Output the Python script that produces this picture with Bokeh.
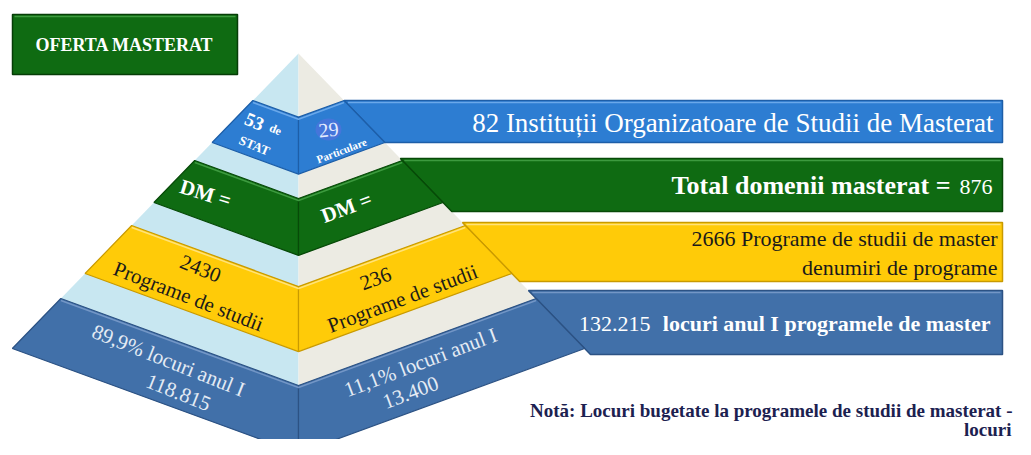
from bokeh.plotting import figure
from bokeh.models import Range1d
from bokeh.embed import file_html
from bokeh.resources import INLINE
from bokeh.core.properties import value

# ---------------- data ----------------
title = "OFERTA MASTERAT"
inst_state = "53"
inst_private = "29"
inst_total = "82"
domains_total = "876"
programs_state = "2430"
programs_private = "236"
programs_total = "2666"
places_state_pct = "89,9%"
places_state = "118.815"
places_private_pct = "11,1%"
places_private = "13.400"
places_total = "132.215"

tier_colors = ["#2d7dd2", "#0f6b12", "#ffcb08", "#4170a9"]
tier_lines = ["#1d5ea8", "#074a08", "#c99a00", "#2c5284"]
tier_lights = ["#6aa8ea", "#3d9a3f", "#ffe27a", "#7396c6"]
bar_texts = [
    inst_total + " Instituții Organizatoare de Studii de Masterat",
    "Total domenii masterat =",
    programs_total + " Programe de studii de master",
    "locuri anul I programele de master",
]
note_lines = ["Notă: Locuri bugetate la programele de studii de masterat -", "locuri"]

# ---------------- geometry ----------------
CX, APEX_Y = 298.0, 53.0
SIDE = 0.97      # half width growth per pixel of height
V = 0.366        # chevron slope
BAR_RIGHT = 1002.0
tier_y = [(100, 142), (160, 202), (225, 273), (298, 348)]
bar_y = [(100, 142), (158, 211), (222, 281), (290, 354)]

def hw(y):
    return SIDE * (y - APEX_Y)

SERIF = value("Liberation Serif")

p = figure(width=1015, height=439, output_backend="svg", toolbar_location=None,
           x_range=Range1d(0, 1015), y_range=Range1d(439, 0),
           min_border=0, background_fill_color="white", border_fill_color="white")
p.axis.visible = False
p.grid.visible = False
p.outline_line_color = None

# pyramid background halves
base_y = tier_y[-1][1]
p.patch([CX, CX - hw(base_y), CX], [APEX_Y, base_y, base_y + V * hw(base_y)],
        fill_color="#c8e7f1", line_color=None)
p.patch([CX, CX + hw(base_y), CX], [APEX_Y, base_y, base_y + V * hw(base_y)],
        fill_color="#ecebe3", line_color=None)

# bars on the right
for (t, b), c, lc, hc in zip(bar_y, tier_colors, tier_lines, tier_lights):
    xs = [CX + hw(t), BAR_RIGHT, BAR_RIGHT, CX + hw(b)]
    ys = [t, t, b, b]
    p.patch(xs, ys, fill_color=c, line_color=lc, line_width=1.5)
    p.line([CX + hw(t + 2) + 2, BAR_RIGHT - 2], [t + 2, t + 2], line_color=hc, line_width=1.5)

# tiers (chevrons)
for (t, b), c, lc, hc in zip(tier_y, tier_colors, tier_lines, tier_lights):
    ct, cb = t + V * hw(t), b + V * hw(b)
    p.patch([CX - hw(t), CX, CX, CX - hw(b)], [t, ct, cb, b],
            fill_color=c, line_color=lc, line_width=1.2)
    p.patch([CX + hw(t), CX, CX, CX + hw(b)], [t, ct, cb, b],
            fill_color=c, line_color=lc, line_width=1.2)
    p.line([CX - hw(t + 2) + 2, CX, CX + hw(t + 2) - 2], [t + 2, ct + 2, t + 2],
           line_color=hc, line_width=1.5)

# soft highlight behind "29"
p.ellipse(x=[328], y=[129], width=26, height=22, fill_color="#5a70e0", fill_alpha=0.55, line_color=None)

# title box
p.quad(left=12, right=237, top=14, bottom=74, fill_color="#0f6b12", line_color="#063d07", line_width=1.5)
p.line([14, 235], [16, 16], line_color="#3d9a3f", line_width=1.5)
p.text(x=[124], y=[44], text=[title], text_color="white", text_font=SERIF,
       text_font_style="bold", text_font_size="18px", text_align="center", text_baseline="middle")

# tier labels
A = 0.36
def lab(x, y, s, size, color, style="normal", angle=0.0):
    p.text(x=[x], y=[y], text=[s], text_color=color, text_font=SERIF, text_font_style=style,
           text_font_size=size, text_align="center", text_baseline="middle", angle=angle)

lab(254, 121, inst_state, "19px", "white", "bold", -0.4)
lab(275, 129, "de", "12px", "white", "bold", -0.4)
lab(254, 145, "STAT", "13px", "white", "bold", -0.4)
lab(328, 129, inst_private, "20px", "#e6ecff", "normal", 0.1)
lab(341, 150, "Particulare", "11px", "white", "bold", A)

lab(205, 193, "DM =", "21px", "white", "bold", -0.3)
lab(346, 207, "DM =", "21px", "white", "bold", A)

lab(200, 268, programs_state, "21px", "#1a1a1a", "normal", -0.38)
lab(188, 296, "Programe de studii", "21px", "#1a1a1a", "normal", -0.37)
lab(375, 278, programs_private, "21px", "#1a1a1a", "normal", A)
lab(402, 298, "Programe de studii", "21px", "#1a1a1a", "normal", A)

lab(168, 360, places_state_pct + " locuri anul I", "21px", "#e4ebf4", "normal", -0.38)
lab(178, 392, places_state, "21px", "#e4ebf4", "normal", -0.38)
lab(425, 360, places_private_pct + "   locuri anul I", "21px", "#e4ebf4", "normal", A)
lab(410, 392, places_private, "21px", "#e4ebf4", "normal", A)

# bar texts
def rtext(x, y, s, size, color, style="normal"):
    p.text(x=[x], y=[y], text=[s], text_color=color, text_font=SERIF, text_font_style=style,
           text_font_size=size, text_align="right", text_baseline="middle")

rtext(993, 122, bar_texts[0], "27px", "white")
rtext(950, 185, bar_texts[1], "26px", "white", "bold")
rtext(992, 186, domains_total, "22px", "white")
rtext(997, 238, bar_texts[2], "22px", "#1a1a1a")
rtext(997, 267, "denumiri de programe", "22px", "#1a1a1a")
rtext(990, 323, bar_texts[3], "22px", "white", "bold")
rtext(650, 323, places_total, "22px", "white")

# note
rtext(1012, 410, note_lines[0], "19px", "#1c2150", "bold")
rtext(1011, 429, note_lines[1], "19px", "#1c2150", "bold")

open("out.html", "w").write(file_html(p, INLINE))
